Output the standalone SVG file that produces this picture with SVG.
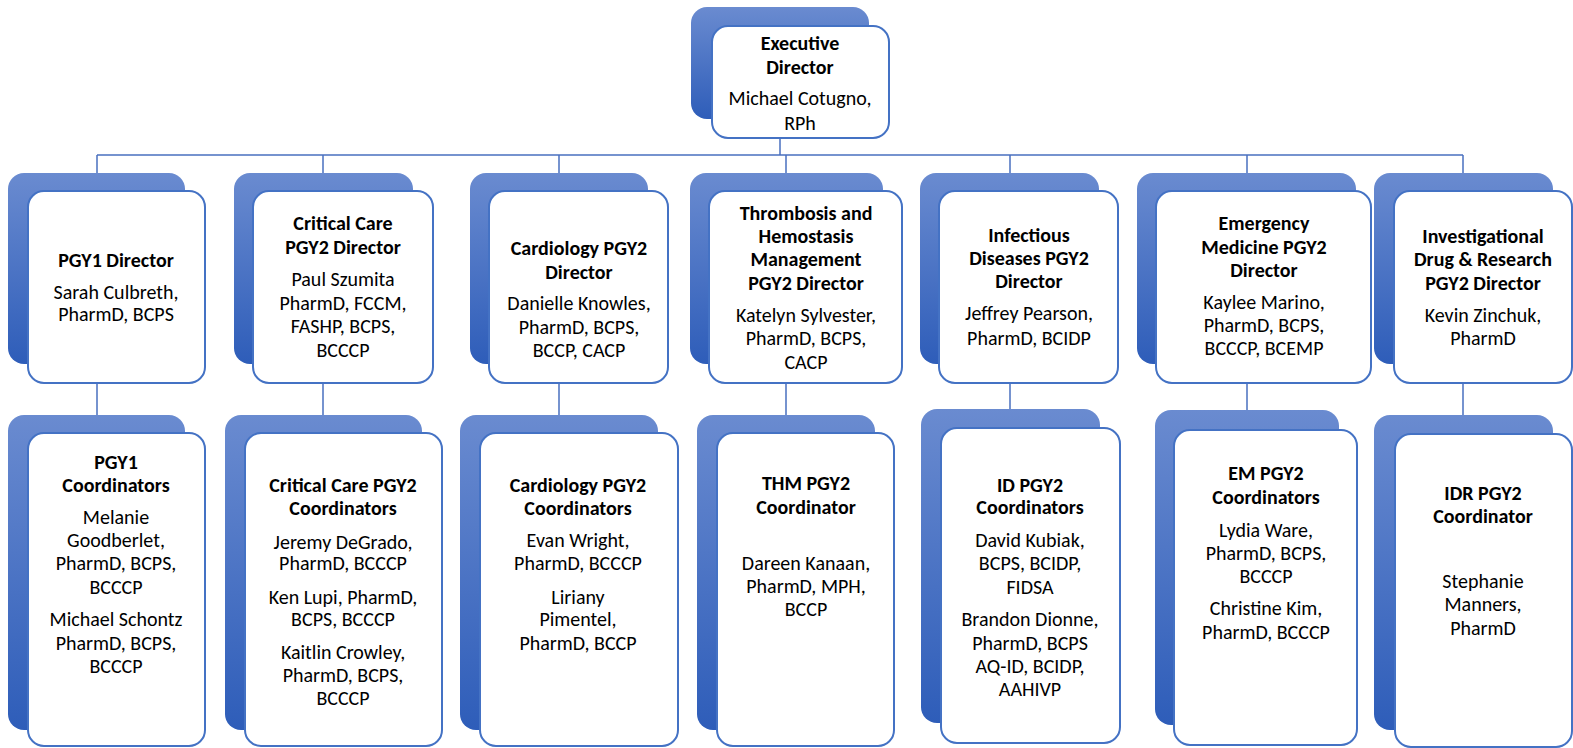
<svg xmlns="http://www.w3.org/2000/svg" width="1573" height="748" viewBox="0 0 1573 748">
<defs>
<linearGradient id="g" x1="0" y1="0" x2="0" y2="1">
<stop offset="0" stop-color="#6A8BD0"/>
<stop offset="1" stop-color="#2E5DB9"/>
</linearGradient>
</defs>
<style>
.bk{fill:url(#g);}
.fr{fill:#FFFFFF;stroke:#4472C4;stroke-width:2;}
.cn{fill:none;stroke:#4A70C0;stroke-width:1.5;}
text{font-family:Carlito,Calibri,Lato,"Open Sans",sans-serif;font-size:20px;fill:#000;text-anchor:middle;}
.b{font-weight:bold;}
</style>
<rect width="1573" height="748" fill="#FFFFFF"/>
<g id="connectors">
<path class="cn" d="M780 138V155M97 155H1463M97 155V173M323 155V173M559 155V173M786 155V173M1010 155V173M1247 155V173M1463 155V173"/>
<path class="cn" d="M97 383V415M323 383V415M559 383V415M786 383V415M1010 383V409M1247 383V410M1463 383V415"/>
</g>
<g id="exec">
<rect class="bk" x="691" y="7" width="178" height="112" rx="16"/>
<rect class="fr" x="712" y="26" width="177" height="112" rx="16"/>
<text x="800" y="50" class="b">Executive</text>
<text x="800" y="74" class="b">Director</text>
<text x="800" y="105">Michael Cotugno,</text>
<text x="800" y="130">RPh</text>
</g>
<g id="pgy1-dir">
<rect class="bk" x="8" y="173" width="177" height="191" rx="16"/>
<rect class="fr" x="28" y="191" width="177" height="192" rx="16"/>
<text x="116" y="267" class="b">PGY1 Director</text>
<text x="116" y="299">Sarah Culbreth,</text>
<text x="116" y="321">PharmD, BCPS</text>
</g>
<g id="cc-dir">
<rect class="bk" x="234" y="173" width="179" height="191" rx="16"/>
<rect class="fr" x="253" y="191" width="180" height="192" rx="16"/>
<text x="343" y="230" class="b">Critical Care</text>
<text x="343" y="254" class="b">PGY2 Director</text>
<text x="343" y="286">Paul Szumita</text>
<text x="343" y="310">PharmD, FCCM,</text>
<text x="343" y="333">FASHP, BCPS,</text>
<text x="343" y="357">BCCCP</text>
</g>
<g id="cardio-dir">
<rect class="bk" x="470" y="173" width="178" height="191" rx="16"/>
<rect class="fr" x="489" y="191" width="179" height="192" rx="16"/>
<text x="579" y="255" class="b">Cardiology PGY2</text>
<text x="579" y="279" class="b">Director</text>
<text x="579" y="310">Danielle Knowles,</text>
<text x="579" y="334">PharmD, BCPS,</text>
<text x="579" y="357">BCCP, CACP</text>
</g>
<g id="thm-dir">
<rect class="bk" x="690" y="173" width="193" height="191" rx="16"/>
<rect class="fr" x="709" y="191" width="193" height="192" rx="16"/>
<text x="806" y="220" class="b">Thrombosis and</text>
<text x="806" y="243" class="b">Hemostasis</text>
<text x="806" y="266" class="b">Management</text>
<text x="806" y="290" class="b">PGY2 Director</text>
<text x="806" y="322">Katelyn Sylvester,</text>
<text x="806" y="345">PharmD, BCPS,</text>
<text x="806" y="369">CACP</text>
</g>
<g id="id-dir">
<rect class="bk" x="920" y="173" width="179" height="191" rx="16"/>
<rect class="fr" x="939" y="191" width="179" height="192" rx="16"/>
<text x="1029" y="242" class="b">Infectious</text>
<text x="1029" y="265" class="b">Diseases PGY2</text>
<text x="1029" y="288" class="b">Director</text>
<text x="1029" y="320">Jeffrey Pearson,</text>
<text x="1029" y="345">PharmD, BCIDP</text>
</g>
<g id="em-dir">
<rect class="bk" x="1137" y="173" width="219" height="191" rx="16"/>
<rect class="fr" x="1156" y="191" width="215" height="192" rx="16"/>
<text x="1264" y="230" class="b">Emergency</text>
<text x="1264" y="254" class="b">Medicine PGY2</text>
<text x="1264" y="277" class="b">Director</text>
<text x="1264" y="309">Kaylee Marino,</text>
<text x="1264" y="332">PharmD, BCPS,</text>
<text x="1264" y="355">BCCCP, BCEMP</text>
</g>
<g id="idr-dir">
<rect class="bk" x="1374" y="173" width="179" height="191" rx="16"/>
<rect class="fr" x="1394" y="191" width="178" height="192" rx="16"/>
<text x="1483" y="243" class="b">Investigational</text>
<text x="1483" y="266" class="b">Drug &amp; Research</text>
<text x="1483" y="290" class="b">PGY2 Director</text>
<text x="1483" y="322">Kevin Zinchuk,</text>
<text x="1483" y="345">PharmD</text>
</g>
<g id="pgy1-coord">
<rect class="bk" x="8" y="415" width="177" height="315" rx="16"/>
<rect class="fr" x="28" y="433" width="177" height="313" rx="16"/>
<text x="116" y="469" class="b">PGY1</text>
<text x="116" y="492" class="b">Coordinators</text>
<text x="116" y="524">Melanie</text>
<text x="116" y="547">Goodberlet,</text>
<text x="116" y="570">PharmD, BCPS,</text>
<text x="116" y="594">BCCCP</text>
<text x="116" y="626">Michael Schontz</text>
<text x="116" y="650">PharmD, BCPS,</text>
<text x="116" y="673">BCCCP</text>
</g>
<g id="cc-coord">
<rect class="bk" x="225" y="415" width="197" height="315" rx="16"/>
<rect class="fr" x="245" y="433" width="197" height="313" rx="16"/>
<text x="343" y="492" class="b">Critical Care PGY2</text>
<text x="343" y="515" class="b">Coordinators</text>
<text x="343" y="549">Jeremy DeGrado,</text>
<text x="343" y="570">PharmD, BCCCP</text>
<text x="343" y="604">Ken Lupi, PharmD,</text>
<text x="343" y="626">BCPS, BCCCP</text>
<text x="343" y="659">Kaitlin Crowley,</text>
<text x="343" y="682">PharmD, BCPS,</text>
<text x="343" y="705">BCCCP</text>
</g>
<g id="cardio-coord">
<rect class="bk" x="460" y="415" width="198" height="315" rx="16"/>
<rect class="fr" x="480" y="433" width="198" height="313" rx="16"/>
<text x="578" y="492" class="b">Cardiology PGY2</text>
<text x="578" y="515" class="b">Coordinators</text>
<text x="578" y="547">Evan Wright,</text>
<text x="578" y="570">PharmD, BCCCP</text>
<text x="578" y="604">Liriany</text>
<text x="578" y="626">Pimentel,</text>
<text x="578" y="650">PharmD, BCCP</text>
</g>
<g id="thm-coord">
<rect class="bk" x="697" y="415" width="178" height="315" rx="16"/>
<rect class="fr" x="717" y="433" width="177" height="313" rx="16"/>
<text x="806" y="490" class="b">THM PGY2</text>
<text x="806" y="514" class="b">Coordinator</text>
<text x="806" y="570">Dareen Kanaan,</text>
<text x="806" y="593">PharmD, MPH,</text>
<text x="806" y="616">BCCP</text>
</g>
<g id="id-coord">
<rect class="bk" x="921" y="409" width="179" height="314" rx="16"/>
<rect class="fr" x="941" y="428" width="179" height="315" rx="16"/>
<text x="1030" y="492" class="b">ID PGY2</text>
<text x="1030" y="514" class="b">Coordinators</text>
<text x="1030" y="547">David Kubiak,</text>
<text x="1030" y="570">BCPS, BCIDP,</text>
<text x="1030" y="594">FIDSA</text>
<text x="1030" y="626">Brandon Dionne,</text>
<text x="1030" y="650">PharmD, BCPS</text>
<text x="1030" y="673">AQ-ID, BCIDP,</text>
<text x="1030" y="696">AAHIVP</text>
</g>
<g id="em-coord">
<rect class="bk" x="1155" y="410" width="184" height="315" rx="16"/>
<rect class="fr" x="1174" y="430" width="183" height="315" rx="16"/>
<text x="1266" y="480" class="b">EM PGY2</text>
<text x="1266" y="504" class="b">Coordinators</text>
<text x="1266" y="537">Lydia Ware,</text>
<text x="1266" y="560">PharmD, BCPS,</text>
<text x="1266" y="583">BCCCP</text>
<text x="1266" y="615">Christine Kim,</text>
<text x="1266" y="639">PharmD, BCCCP</text>
</g>
<g id="idr-coord">
<rect class="bk" x="1374" y="415" width="179" height="315" rx="16"/>
<rect class="fr" x="1395" y="434" width="177" height="313" rx="16"/>
<text x="1483" y="500" class="b">IDR PGY2</text>
<text x="1483" y="523" class="b">Coordinator</text>
<text x="1483" y="588">Stephanie</text>
<text x="1483" y="611">Manners,</text>
<text x="1483" y="635">PharmD</text>
</g>
</svg>
